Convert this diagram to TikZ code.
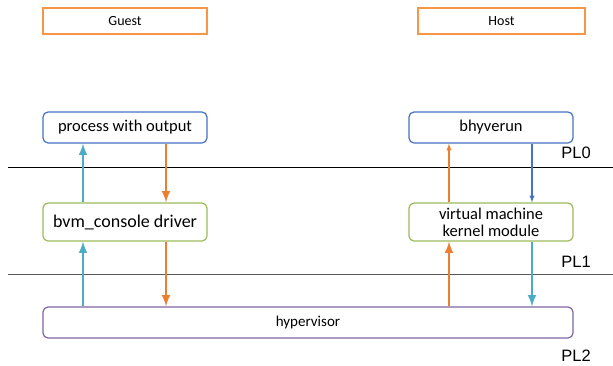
\documentclass[tikz,border=0pt]{standalone}
\usepackage{fontspec}
\setmainfont{Carlito}
\newfontfamily\plfont{Liberation Sans}
\usetikzlibrary{arrows,positioning}

\definecolor{boxorange}{HTML}{F79646}
\definecolor{boxblue}{HTML}{4472C4}
\definecolor{boxgreen}{HTML}{9BBB59}
\definecolor{boxpurple}{HTML}{8064A2}
\definecolor{arrcyan}{HTML}{4BACC6}
\definecolor{arrorange}{HTML}{ED7D31}

\begin{document}
\begin{tikzpicture}[
            x = 1pt, y = -1pt, % one unit per pixel, downwards
            > = latex, % arrow head style
            side/.style = {draw=boxorange, line width=1.3pt, minimum width=164pt, minimum height=26pt, inner sep=0pt, font=\fontsize{14}{16}\selectfont},
            proc/.style = {draw=boxblue, line width=1.2pt, rounded corners=5pt, minimum width=164pt, minimum height=31pt, inner sep=0pt, font=\fontsize{16.5}{18}\selectfont},
            kern/.style = {draw=boxgreen, line width=1.2pt, rounded corners=5pt, minimum width=164pt, minimum height=38pt, inner sep=0pt, align=center, font=\fontsize{16.5}{17}\selectfont},
            hyp/.style = {draw=boxpurple, line width=1.2pt, rounded corners=5pt, minimum width=530pt, minimum height=31pt, inner sep=0pt, font=\fontsize{15}{17}\selectfont},
            level/.style = {line width=0.8pt},
            pl/.style = {anchor=east, inner sep=0pt, font=\plfont\fontsize{16.5}{18}\selectfont},
            thickup/.style = {->, line width=2.8pt},
            thinup/.style = {->, line width=1.3pt}
        ]
    \useasboundingbox (0,0) rectangle (613,365);

    \node[side] (guest) at (125,21) {Guest};
    \node[side, minimum width=167pt] (host) at (501.5,21) {Host};

    \node[proc] (out) at (125,127.5) {process with output};
    \node[proc] (bhyve) at (491,127.5) {bhyverun};

    \node[kern, font=\fontsize{18}{20}\selectfont] (drv) at (125,222) {bvm\_console driver};
    \node[kern] (vmm) at (491,222) {virtual machine\\kernel module};

    \node[hyp] (hv) at (308,322.5) {hypervisor};

    % privilege levels
    \coordinate (l0) at (8,167);
    \coordinate (r0) at (613,167);
    \coordinate (l1) at (8,274);
    \coordinate (r1) at (613,274);
    \draw[level] (l0) -- (r0);
    \draw[level, black!65] (l1) -- (r1);
    \node[pl] (pl0) at (591,153) {PL0};
    \node[pl] (pl1) at (591,262) {PL1};
    \node[pl] (pl2) at (591,356) {PL2};

    % arrow columns
    \coordinate (gup) at ([xshift=-42pt]drv.south);
    \coordinate (gdn) at ([xshift=41pt]drv.south);
    \coordinate (hup) at ([xshift=-42pt]vmm.south);
    \coordinate (hdn) at ([xshift=41pt]vmm.south);

    % guest side
    \draw[thickup, arrcyan] (hv.north -| gup) -- (drv.south -| gup);
    \draw[thickup, arrcyan] (drv.north -| gup) -- (out.south -| gup);
    \draw[thickup, arrorange] (out.south -| gdn) -- (drv.north -| gdn);
    \draw[thickup, arrorange] (drv.south -| gdn) -- (hv.north -| gdn);

    % host side
    \draw[thickup, arrorange] (hv.north -| hup) -- (vmm.south -| hup);
    \draw[thinup, arrorange] (vmm.north -| hup) -- (bhyve.south -| hup);
    \draw[thinup, boxblue] (bhyve.south -| hdn) -- (vmm.north -| hdn);
    \draw[thickup, arrcyan] (vmm.south -| hdn) -- (hv.north -| hdn);

\end{tikzpicture}
\end{document}
